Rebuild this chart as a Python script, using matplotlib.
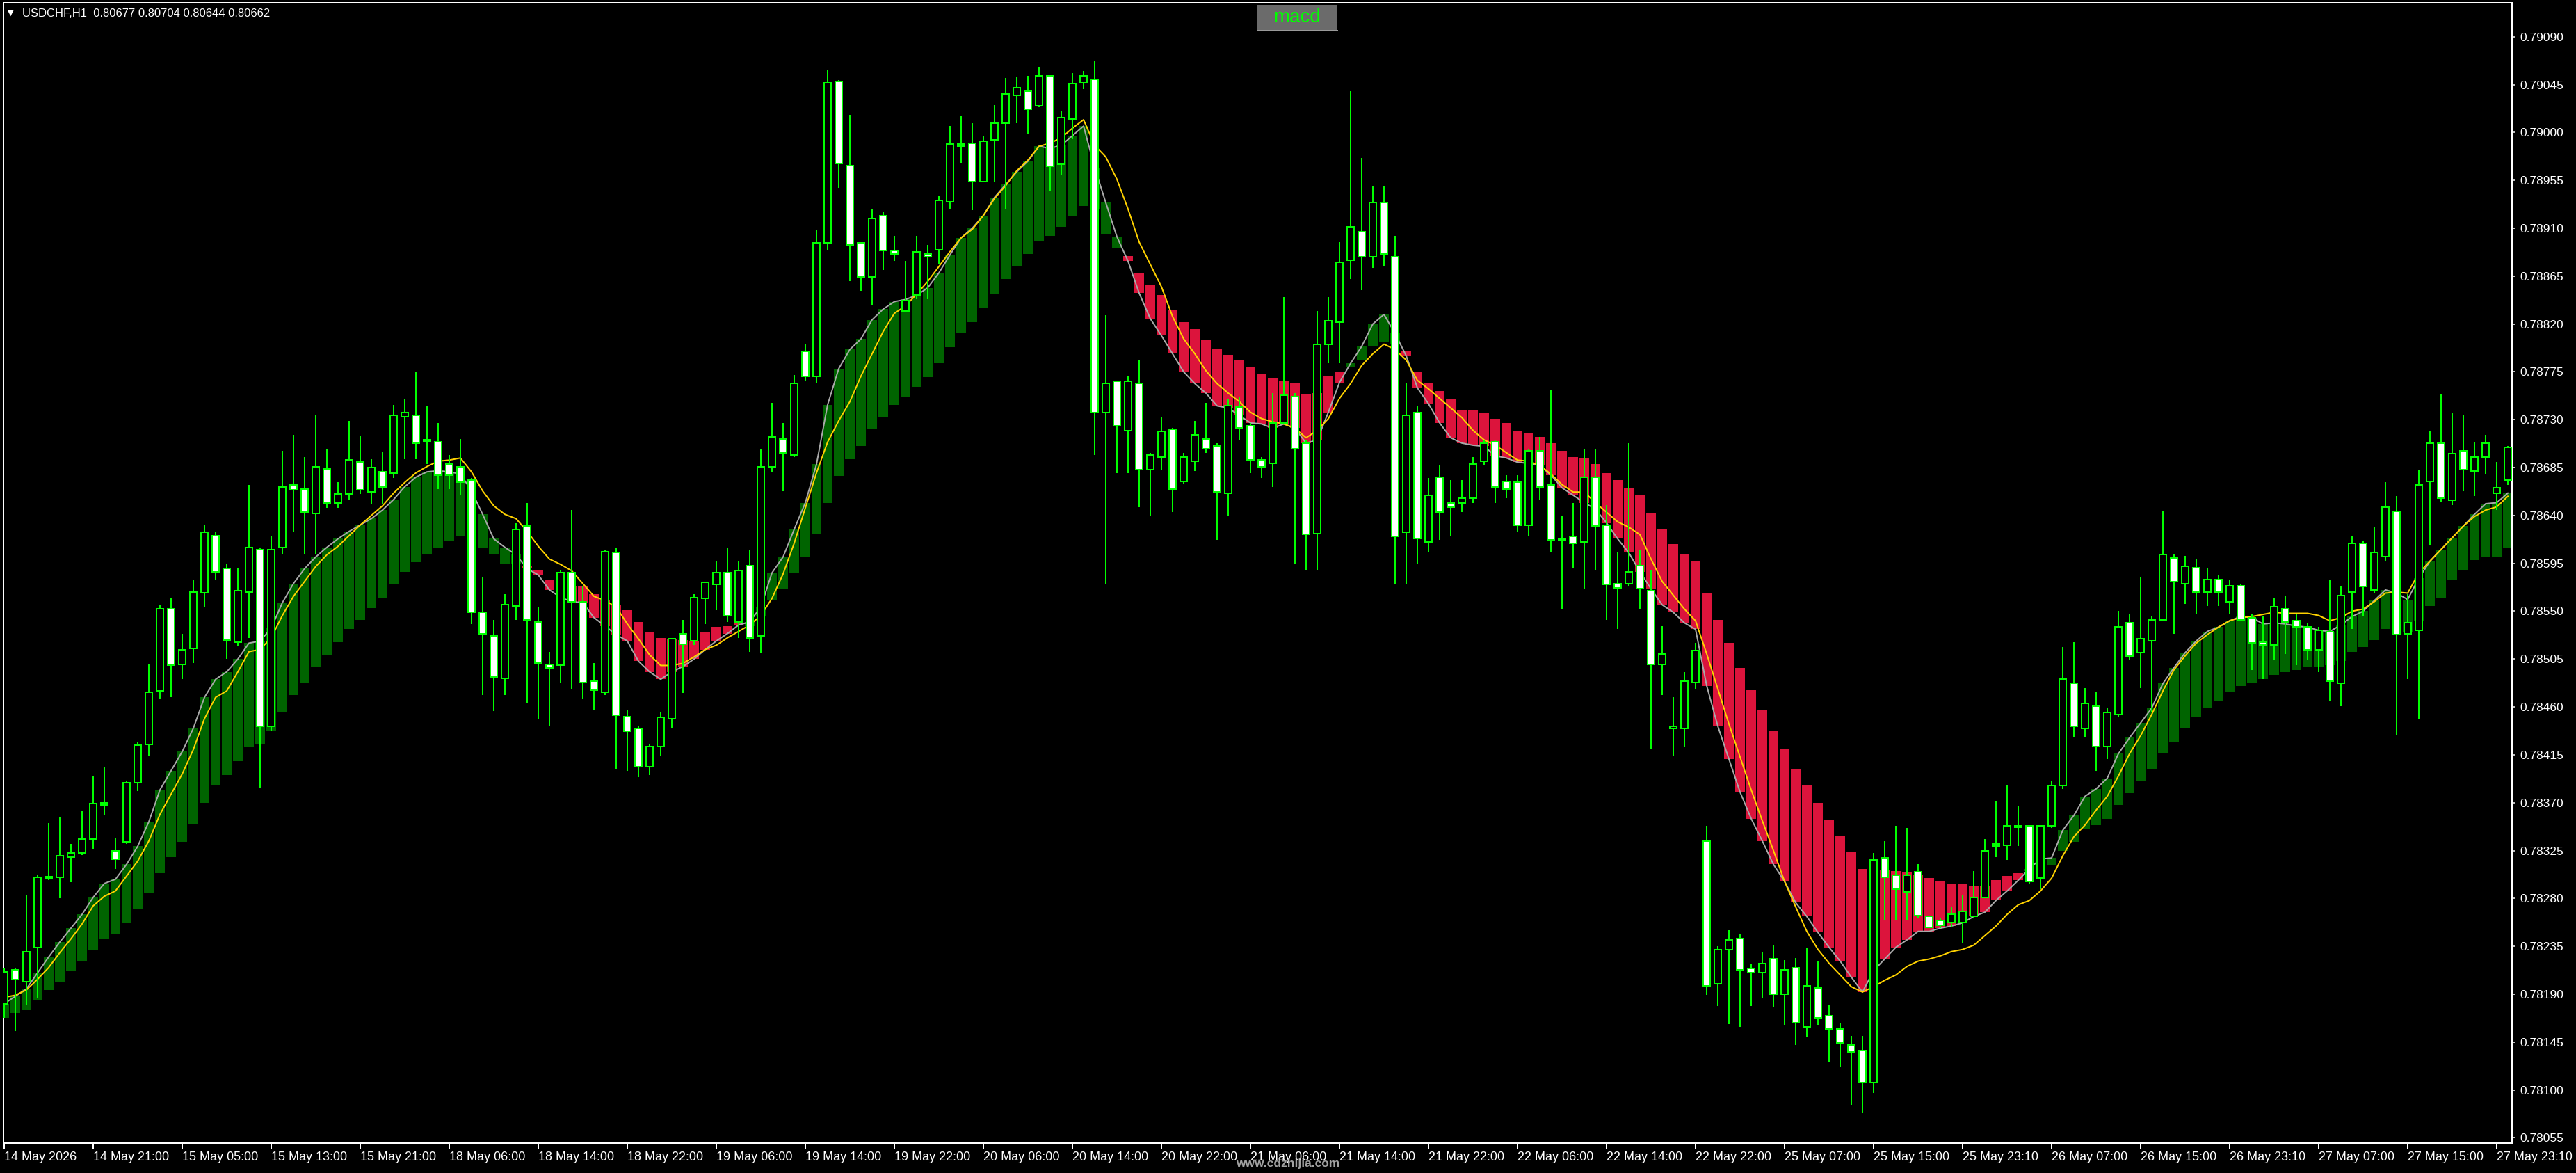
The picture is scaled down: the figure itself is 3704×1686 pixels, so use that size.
import numpy as np
import matplotlib
matplotlib.use('Agg')
import matplotlib.pyplot as plt
from matplotlib.patches import Rectangle

plt.rcParams['font.family'] = ['Liberation Sans', 'DejaVu Sans']

W, H, DPI = 3704, 1686, 100

# USDCHF H1 bars, prices in points (1 point = 0.00001)
opens = [78181, 78213, 78202, 78234, 78299, 78300, 78319, 78323, 78336, 78368,
         78325, 78333, 78389, 78425, 78475, 78552, 78500, 78515, 78567, 78621,
         78590, 78521, 78568, 78608, 78442, 78610, 78669, 78665, 78642, 78684,
         78652, 78660, 78690, 78662, 78681, 78680, 78733, 78734, 78710, 78709,
         78688, 78686, 78673, 78549, 78527, 78487, 78555, 78630, 78540, 78500,
         78499, 78586, 78559, 78484, 78474, 78605, 78451, 78440, 78404, 78423,
         78449, 78529, 78522, 78562, 78575, 78586, 78540, 78593, 78527, 78686,
         78712, 78697, 78794, 78771, 78896, 79048, 78969, 78896, 78864, 78922,
         78889, 78832, 78847, 78886, 78890, 78935, 78987, 78990, 78954, 78993,
         79009, 79035, 79039, 79025, 79053, 78970, 79013, 79047, 79050, 78737,
         78766, 78720, 78764, 78683, 78695, 78721, 78672, 78691, 78712, 78705,
         78661, 78742, 78724, 78692, 78689, 78727, 78752, 78708, 78623, 78801,
         78822, 78880, 78907, 78883, 78934, 78883, 78624, 78737, 78615, 78676,
         78652, 78652, 78656, 78691, 78709, 78672, 78671, 78631, 78701, 78669,
         78618, 78620, 78615, 78676, 78631, 78576, 78576, 78593, 78569, 78500,
         78440, 78440, 78483, 78334, 78200, 78232, 78242, 78214, 78210, 78223,
         78190, 78215, 78159, 78196, 78170, 78157, 78142, 78137, 78107, 78318,
         78302, 78286, 78305, 78263, 78259, 78257, 78257, 78263, 78281, 78331,
         78330, 78348, 78348, 78299, 78348, 78386, 78482, 78440, 78461, 78423,
         78453, 78539, 78511, 78522, 78542, 78600, 78576, 78591, 78568, 78580,
         78559, 78574, 78544, 78521, 78518, 78552, 78541, 78535, 78514, 78531,
         78482, 78568, 78614, 78570, 78601, 78644, 78529, 78532, 78672, 78708,
         78654, 78701, 78682, 78695, 78661, 78673]

highs = [78214, 78215, 78283, 78302, 78351, 78357, 78331, 78362, 78395, 78404,
         78337, 78391, 78427, 78500, 78556, 78562, 78529, 78580, 78631, 78624,
         78594, 78590, 78669, 78609, 78621, 78701, 78716, 78695, 78734, 78703,
         78671, 78729, 78715, 78693, 78700, 78744, 78749, 78775, 78743, 78727,
         78697, 78712, 78675, 78582, 78542, 78566, 78633, 78652, 78554, 78512,
         78588, 78645, 78574, 78501, 78608, 78610, 78457, 78442, 78425, 78455,
         78525, 78542, 78566, 78578, 78597, 78610, 78597, 78608, 78703, 78746,
         78727, 78772, 78801, 78909, 79059, 79049, 79016, 78896, 78928, 78926,
         78903, 78879, 78903, 78894, 78941, 79006, 79015, 79009, 78997, 79026,
         79051, 79052, 79053, 79062, 79054, 79020, 79056, 79058, 79067, 78828,
         78767, 78771, 78786, 78699, 78732, 78722, 78699, 78729, 78746, 78708,
         78750, 78752, 78727, 78695, 78755, 78845, 78755, 78711, 78832, 78845,
         78897, 79039, 78976, 78950, 78950, 78903, 78765, 78743, 78675, 78687,
         78673, 78673, 78695, 78711, 78711, 78678, 78678, 78703, 78714, 78758,
         78640, 78652, 78703, 78703, 78650, 78606, 78708, 78608, 78588, 78536,
         78469, 78493, 78520, 78348, 78235, 78250, 78246, 78219, 78229, 78236,
         78222, 78224, 78234, 78221, 78180, 78163, 78151, 78151, 78323, 78334,
         78348, 78346, 78312, 78264, 78262, 78272, 78283, 78306, 78336, 78371,
         78386, 78367, 78349, 78349, 78390, 78516, 78521, 78478, 78474, 78459,
         78550, 78548, 78582, 78546, 78644, 78603, 78602, 78599, 78590, 78584,
         78580, 78575, 78548, 78546, 78563, 78565, 78548, 78539, 78535, 78579,
         78573, 78621, 78616, 78629, 78671, 78658, 78566, 78683, 78720, 78754,
         78737, 78735, 78709, 78716, 78690, 78705]

lows = [78168, 78155, 78180, 78187, 78297, 78280, 78295, 78321, 78326, 78359,
        78308, 78331, 78381, 78414, 78468, 78469, 78486, 78501, 78554, 78579,
        78505, 78517, 78525, 78384, 78438, 78603, 78625, 78603, 78603, 78647,
        78647, 78654, 78660, 78651, 78651, 78675, 78693, 78693, 78688, 78665,
        78665, 78659, 78538, 78471, 78456, 78471, 78542, 78463, 78449, 78442,
        78482, 78477, 78467, 78457, 78471, 78401, 78400, 78394, 78396, 78414,
        78440, 78473, 78518, 78538, 78551, 78540, 78525, 78512, 78511, 78681,
        78663, 78695, 78766, 78765, 78889, 78948, 78860, 78851, 78838, 78871,
        78879, 78831, 78843, 78843, 78876, 78928, 78971, 78927, 78953, 78953,
        78928, 79009, 78999, 79024, 78945, 78960, 78994, 79041, 78697, 78575,
        78680, 78680, 78648, 78640, 78683, 78643, 78670, 78682, 78699, 78617,
        78639, 78711, 78680, 78675, 78667, 78726, 78594, 78589, 78589, 78783,
        78783, 78862, 78852, 78873, 78874, 78575, 78576, 78594, 78605, 78617,
        78620, 78643, 78652, 78687, 78652, 78656, 78624, 78620, 78654, 78605,
        78552, 78591, 78571, 78589, 78542, 78533, 78574, 78552, 78421, 78471,
        78414, 78422, 78477, 78189, 78179, 78162, 78159, 78179, 78187, 78178,
        78161, 78142, 78150, 78161, 78126, 78121, 78086, 78078, 78097, 78259,
        78259, 78259, 78262, 78252, 78252, 78253, 78238, 78261, 78280, 78319,
        78316, 78329, 78294, 78289, 78346, 78383, 78431, 78431, 78400, 78411,
        78451, 78504, 78478, 78455, 78541, 78529, 78557, 78547, 78555, 78555,
        78547, 78541, 78495, 78486, 78504, 78510, 78499, 78504, 78493, 78466,
        78461, 78533, 78546, 78567, 78597, 78433, 78486, 78448, 78612, 78653,
        78650, 78663, 78658, 78679, 78645, 78669]

closes = [78211, 78204, 78230, 78300, 78300, 78320, 78323, 78336, 78369, 78369,
          78317, 78389, 78424, 78474, 78552, 78499, 78514, 78568, 78624, 78587,
          78523, 78569, 78610, 78442, 78608, 78667, 78664, 78643, 78686, 78652,
          78660, 78692, 78664, 78685, 78667, 78734, 78737, 78708, 78710, 78678,
          78678, 78671, 78549, 78529, 78488, 78556, 78627, 78542, 78501, 78497,
          78586, 78559, 78483, 78476, 78606, 78452, 78437, 78404, 78423, 78450,
          78524, 78519, 78563, 78577, 78586, 78546, 78588, 78525, 78686, 78714,
          78699, 78764, 78771, 78896, 79047, 78971, 78894, 78864, 78919, 78889,
          78886, 78842, 78888, 78883, 78936, 78989, 78989, 78954, 78992, 79009,
          79036, 79042, 79022, 79053, 78968, 79014, 79046, 79053, 78737, 78764,
          78724, 78766, 78683, 78697, 78719, 78665, 78695, 78716, 78703, 78662,
          78743, 78722, 78692, 78686, 78727, 78753, 78703, 78622, 78801, 78823,
          78878, 78911, 78883, 78934, 78886, 78620, 78734, 78618, 78659, 78643,
          78648, 78656, 78688, 78708, 78667, 78665, 78631, 78701, 78667, 78617,
          78617, 78614, 78676, 78630, 78575, 78572, 78587, 78571, 78500, 78510,
          78442, 78484, 78513, 78198, 78232, 78241, 78213, 78210, 78219, 78190,
          78213, 78163, 78198, 78168, 78157, 78144, 78136, 78107, 78316, 78300,
          78289, 78302, 78264, 78253, 78255, 78265, 78268, 78281, 78325, 78329,
          78348, 78347, 78296, 78348, 78386, 78486, 78442, 78463, 78423, 78455,
          78535, 78508, 78524, 78542, 78603, 78578, 78592, 78568, 78580, 78568,
          78574, 78542, 78520, 78518, 78554, 78540, 78535, 78514, 78532, 78484,
          78565, 78614, 78573, 78605, 78648, 78528, 78539, 78669, 78708, 78656,
          78698, 78683, 78695, 78708, 78666, 78704]

# indicator: fast line (grey), slow line (other edge of the boxes), signal (yellow)
fast_line = [78181, 78188, 78195, 78210, 78225, 78239, 78252, 78265, 78281, 78294,
             78298, 78312, 78329, 78352, 78382, 78400, 78418, 78440, 78469, 78486,
             78493, 78505, 78520, 78522, 78534, 78558, 78576, 78590, 78601, 78610,
             78618, 78625, 78631, 78637, 78645, 78655, 78667, 78676, 78681, 78682,
             78681, 78679, 78663, 78641, 78618, 78610, 78603, 78590, 78584, 78570,
             78563, 78559, 78558, 78544, 78536, 78528, 78522, 78503, 78493, 78486,
             78493, 78498, 78505, 78514, 78522, 78529, 78537, 78540, 78554, 78586,
             78601, 78627, 78652, 78688, 78744, 78778, 78796, 78806, 78824, 78834,
             78841, 78843, 78847, 78854, 78868, 78885, 78901, 78910, 78922, 78939,
             78951, 78963, 78973, 78987, 78985, 78988, 78997, 79006, 78967, 78934,
             78902, 78879, 78849, 78825, 78809, 78792, 78775, 78764, 78755, 78743,
             78741, 78734, 78727, 78726, 78722, 78726, 78722, 78708, 78711, 78737,
             78765, 78783, 78799, 78820, 78829, 78811, 78790, 78760, 78745, 78727,
             78713, 78708, 78706, 78705, 78696, 78694, 78690, 78689, 78687, 78678,
             78666, 78659, 78652, 78646, 78633, 78618, 78605, 78587, 78571, 78556,
             78549, 78539, 78533, 78480, 78442, 78411, 78380, 78355, 78334, 78312,
             78296, 78276, 78263, 78248, 78234, 78221, 78206, 78192, 78212, 78223,
             78234, 78241, 78249, 78249, 78252, 78254, 78257, 78263, 78267, 78278,
             78287, 78297, 78308, 78317, 78318, 78344, 78358, 78376, 78383, 78393,
             78416, 78431, 78445, 78459, 78482, 78497, 78511, 78522, 78531, 78535,
             78541, 78545, 78544, 78538, 78539, 78538, 78536, 78535, 78532, 78531,
             78537, 78545, 78550, 78560, 78570, 78567, 78561, 78581, 78597, 78608,
             78619, 78630, 78641, 78651, 78652, 78661]

slow_line = [78168, 78172, 78175, 78184, 78194, 78202, 78212, 78221, 78231, 78242,
             78247, 78257, 78270, 78285, 78304, 78319, 78333, 78350, 78370, 78387,
             78396, 78409, 78423, 78425, 78437, 78455, 78471, 78483, 78498, 78509,
             78521, 78533, 78542, 78553, 78562, 78575, 78587, 78596, 78603, 78609,
             78616, 78620, 78616, 78609, 78603, 78595, 78594, 78592, 78588, 78580,
             78576, 78574, 78573, 78566, 78561, 78556, 78551, 78540, 78531, 78525,
             78524, 78523, 78522, 78531, 78535, 78536, 78540, 78536, 78546, 78561,
             78571, 78586, 78601, 78622, 78652, 78677, 78693, 78705, 78721, 78733,
             78744, 78752, 78761, 78770, 78783, 78798, 78812, 78822, 78835, 78848,
             78862, 78875, 78886, 78898, 78903, 78911, 78921, 78931, 78928, 78905,
             78892, 78884, 78868, 78857, 78847, 78833, 78822, 78815, 78805, 78796,
             78791, 78786, 78780, 78773, 78769, 78767, 78764, 78754, 78755, 78771,
             78775, 78780, 78786, 78799, 78803, 78801, 78794, 78775, 78765, 78757,
             78750, 78739, 78739, 78736, 78731, 78727, 78720, 78718, 78714, 78708,
             78701, 78695, 78694, 78688, 78680, 78673, 78666, 78659, 78642, 78627,
             78613, 78604, 78597, 78567, 78542, 78520, 78497, 78476, 78457, 78437,
             78421, 78401, 78387, 78370, 78354, 78339, 78324, 78308, 78309, 78307,
             78306, 78305, 78302, 78299, 78296, 78294, 78293, 78291, 78291, 78297,
             78301, 78304, 78306, 78310, 78311, 78325, 78333, 78345, 78349, 78355,
             78368, 78379, 78390, 78402, 78416, 78427, 78440, 78450, 78459, 78466,
             78474, 78480, 78482, 78486, 78490, 78493, 78495, 78498, 78498, 78499,
             78503, 78512, 78516, 78523, 78533, 78528, 78531, 78541, 78555, 78563,
             78579, 78589, 78598, 78601, 78601, 78610]

signal_line = [78187, 78189, 78194, 78204, 78215, 78229, 78242, 78256, 78273, 78282,
               78287, 78301, 78315, 78334, 78359, 78378, 78397, 78420, 78449, 78469,
               78475, 78493, 78512, 78514, 78525, 78546, 78564, 78578, 78592, 78603,
               78611, 78621, 78631, 78640, 78649, 78661, 78671, 78680, 78686, 78691,
               78692, 78694, 78681, 78663, 78649, 78641, 78637, 78625, 78611, 78599,
               78594, 78588, 78576, 78564, 78560, 78554, 78538, 78524, 78509, 78499,
               78499, 78501, 78507, 78514, 78518, 78525, 78531, 78537, 78546, 78562,
               78585, 78614, 78647, 78680, 78709, 78729, 78747, 78771, 78792, 78813,
               78830, 78837, 78848, 78860, 78874, 78888, 78901, 78909, 78922, 78938,
               78950, 78964, 78974, 78987, 78990, 78995, 79004, 79012, 78988, 78977,
               78956, 78928, 78897, 78876, 78855, 78827, 78806, 78792, 78776, 78764,
               78755, 78747, 78737, 78731, 78728, 78726, 78722, 78713, 78720, 78731,
               78750, 78764, 78781, 78792, 78801, 78796, 78786, 78767, 78759, 78750,
               78741, 78732, 78720, 78711, 78706, 78699, 78692, 78691, 78687, 78679,
               78669, 78662, 78662, 78652, 78643, 78634, 78629, 78622, 78599, 78578,
               78565, 78552, 78541, 78510, 78477, 78444, 78413, 78382, 78353, 78325,
               78296, 78272, 78249, 78232, 78219, 78208, 78197, 78192, 78197, 78203,
               78208, 78216, 78221, 78223, 78226, 78230, 78232, 78236, 78245, 78254,
               78265, 78274, 78278, 78287, 78299, 78320, 78338, 78349, 78363, 78376,
               78395, 78416, 78433, 78453, 78475, 78495, 78508, 78520, 78528, 78535,
               78541, 78544, 78545, 78547, 78549, 78548, 78548, 78548, 78546, 78541,
               78544, 78550, 78552, 78559, 78567, 78568, 78567, 78586, 78597, 78608,
               78619, 78630, 78639, 78645, 78648, 78658]

time_labels = ['14 May 2026', '14 May 21:00', '15 May 05:00', '15 May 13:00',
               '15 May 21:00', '18 May 06:00', '18 May 14:00', '18 May 22:00',
               '19 May 06:00', '19 May 14:00', '19 May 22:00', '20 May 06:00',
               '20 May 14:00', '20 May 22:00', '21 May 06:00', '21 May 14:00',
               '21 May 22:00', '22 May 06:00', '22 May 14:00', '22 May 22:00',
               '25 May 07:00', '25 May 15:00', '25 May 23:10', '26 May 07:00',
               '26 May 15:00', '26 May 23:10', '27 May 07:00', '27 May 15:00',
               '27 May 23:10']
price_ticks = list(range(78055, 79091, 45))

PT = 72 / DPI  # points per pixel

o = np.array(opens) / 1e5
h = np.array(highs) / 1e5
l = np.array(lows) / 1e5
c = np.array(closes) / 1e5
fst = np.array(fast_line) / 1e5
slw = np.array(slow_line) / 1e5
sig = np.array(signal_line) / 1e5
x = np.arange(len(o))

fig = plt.figure(figsize=(W / DPI, H / DPI), dpi=DPI, facecolor='black')
ax = fig.add_axes([4.5 / W, 43 / H, (3612 - 4.5) / W, (1643 - 4) / H])
ax.set_facecolor('black')

# indicator boxes between the fast and slow lines
green = fst >= slw
box_col = np.where(green, '#006400', '#DC143C')
ax.bar(x, np.abs(fst - slw), bottom=np.minimum(fst, slw), width=0.875,
       color=box_col, linewidth=0, zorder=1)

ax.plot(x, fst, color='#A9A9A9', lw=2 * PT, zorder=2)
ax.plot(x, sig, color='#FFD200', lw=2 * PT, zorder=2)

# candles
up = c >= o
ax.vlines(x, l, h, color='#00FF00', lw=2 * PT, zorder=3)
body_b = np.minimum(o, c)
body_h = np.maximum(np.abs(c - o), 0.000015)
ax.bar(x[up], body_h[up], bottom=body_b[up], width=0.62, color='black',
       edgecolor='#00FF00', linewidth=2 * PT, zorder=4)
ax.bar(x[~up], body_h[~up], bottom=body_b[~up], width=0.62, color='white',
       edgecolor='#00FF00', linewidth=2 * PT, zorder=4)

ax.set_xlim((4.5 - 6) / 16, (3612 - 6) / 16)
ax.set_ylim(0.780500, 0.791219)

for sp in ax.spines.values():
    sp.set_color('white')
    sp.set_linewidth(2 * PT)

ax.yaxis.tick_right()
ax.set_yticks([p / 1e5 for p in price_ticks])
ax.set_yticklabels(['%.5f' % (p / 1e5) for p in price_ticks])
ax.tick_params(axis='y', colors='white', length=5 * PT, width=1.5 * PT,
               pad=6 * PT, labelsize=12.5, direction='out')

ax.set_xticks(np.arange(0, 8 * len(time_labels), 8))
ax.set_xticklabels(time_labels, ha='left')
ax.tick_params(axis='x', colors='white', length=8 * PT, width=2 * PT,
               pad=4 * PT, labelsize=13, direction='out')

# header line
fig.text(15 / W, 1 - 19 / H, '\u25bc', color='white', fontsize=8,
         ha='center', va='center', family=['DejaVu Sans'])
fig.text(32 / W, 1 - 20 / H, 'USDCHF,H1  0.80677 0.80704 0.80644 0.80662',
         color='white', fontsize=12, ha='left', va='center')

# "macd" button
fig.patches.append(Rectangle((1807 / W, 1 - 43 / H), 116 / W, 36 / H,
                             transform=fig.transFigure, facecolor='#6B6B6B',
                             edgecolor='none'))
fig.patches.append(Rectangle((1807 / W, 1 - 45 / H), 117 / W, 2 / H,
                             transform=fig.transFigure, facecolor='#9A9A9A',
                             edgecolor='none'))
fig.text(1865 / W, 1 - 25 / H, 'macd', color='#00FF00', fontsize=20,
         ha='center', va='center')

# watermark
fig.text(1852 / W, 1 - 1672 / H, 'www.cdzhijia.com', color='#BEBEBE',
         fontsize=12.5, fontweight='bold', ha='center', va='center', alpha=0.85)

fig.savefig('out.png', dpi=DPI, facecolor='black')
